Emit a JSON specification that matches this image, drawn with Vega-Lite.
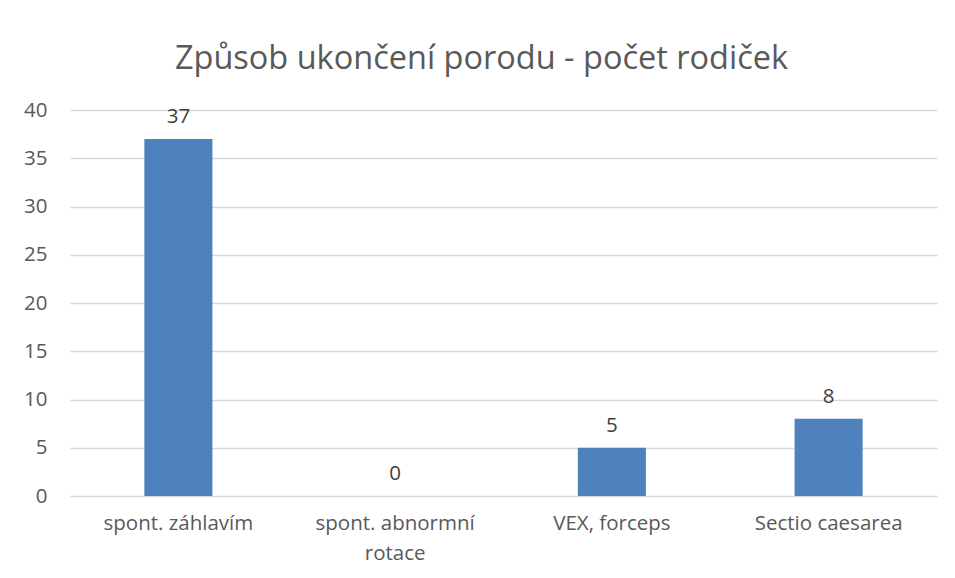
{
  "$schema": "https://vega.github.io/schema/vega-lite/v6.json",
  "width": 867,
  "height": 386,
  "autosize": {"type": "none"},
  "padding": {"left": 70, "top": 110, "right": 18, "bottom": 82},
  "background": "white",
  "title": {
    "text": "Způsob ukončení porodu - počet rodiček",
    "font": "Open Sans",
    "fontSize": 32.5,
    "fontWeight": "normal",
    "color": "#595959",
    "anchor": "middle",
    "dx": -22,
    "offset": 25
  },
  "data": {
    "values": [
      {"kategorie": "spont. záhlavím", "pocet": 37},
      {"kategorie": "spont. abnormní rotace", "pocet": 0},
      {"kategorie": "VEX, forceps", "pocet": 5},
      {"kategorie": "Sectio caesarea", "pocet": 8}
    ]
  },
  "encoding": {
    "x": {
      "field": "kategorie",
      "type": "nominal",
      "sort": null,
      "title": null,
      "scale": {"paddingInner": 0.686, "paddingOuter": 0.343},
      "axis": {
        "labelAngle": 0,
        "domain": false,
        "ticks": false,
        "labelPadding": 17,
        "labelFont": "Open Sans",
        "labelFontSize": 20.5,
        "labelColor": "#595959",
        "labelLineHeight": 30,
        "labelExpr": "datum.value == 'spont. abnormní rotace' ? ['spont. abnormní', 'rotace'] : datum.value"
      }
    },
    "y": {
      "field": "pocet",
      "type": "quantitative",
      "title": null,
      "scale": {"domain": [0, 40], "nice": false},
      "axis": {
        "values": [0, 5, 10, 15, 20, 25, 30, 35, 40],
        "domain": false,
        "ticks": false,
        "labelPadding": 23,
        "labelFont": "Open Sans",
        "labelFontSize": 20.5,
        "labelColor": "#595959",
        "gridColor": "#d9d9d9",
        "gridWidth": 1.3
      }
    }
  },
  "layer": [
    {"mark": {"type": "bar", "color": "#4f81bd"}},
    {
      "mark": {
        "type": "text",
        "baseline": "bottom",
        "dy": -12,
        "font": "Open Sans",
        "fontSize": 20.5,
        "color": "#404040"
      },
      "encoding": {"text": {"field": "pocet", "type": "quantitative"}}
    }
  ],
  "config": {"view": {"stroke": null}}
}
